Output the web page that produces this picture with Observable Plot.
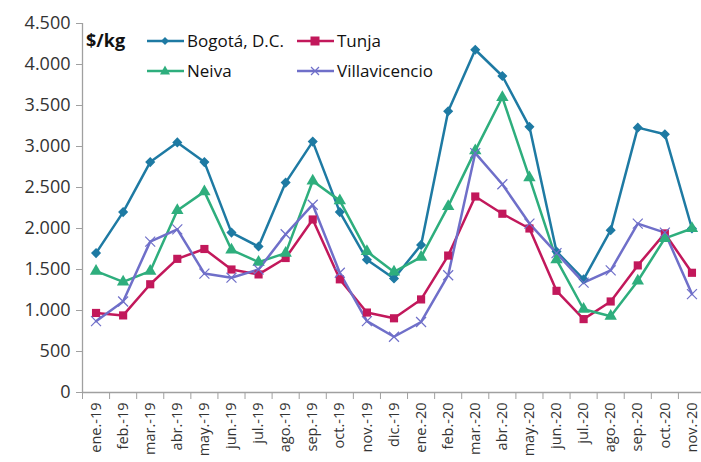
<!DOCTYPE html>
<html>
<head>
<meta charset="utf-8">
<script src="https://cdn.jsdelivr.net/npm/d3@7"></script>
<script src="https://cdn.jsdelivr.net/npm/@observablehq/plot@0.6"></script>
<style>
  body { margin: 0; background: #fff; }
  #wrap { position: relative; width: 701px; height: 462px; font-family: "Open Sans", "Noto Sans", sans-serif; }
  #legend { position: absolute; left: 0; top: 0; }
  .unit { position: absolute; left: 86px; top: 28px; font-weight: bold; font-size: 18px; color: #111; white-space: nowrap; }
  .item { position: absolute; display: flex; align-items: center; font-size: 17px; color: #111; white-space: nowrap; }
  .item svg { margin-right: 3px; flex: none; }
</style>
</head>
<body>
<div id="wrap"></div>
<script>
const months = ["ene.-19","feb.-19","mar.-19","abr.-19","may.-19","jun.-19","jul.-19","ago.-19","sep.-19","oct.-19","nov.-19","dic.-19","ene.-20","feb.-20","mar.-20","abr.-20","may.-20","jun.-20","jul.-20","ago.-20","sep.-20","oct.-20","nov.-20"];
const seriesNames = ["Bogotá, D.C.","Tunja","Neiva","Villavicencio"];
const bogota = [1700,2200,2810,3050,2810,1950,1780,2560,3060,2200,1620,1390,1800,3430,4180,3860,3240,1720,1380,1980,3230,3150,2000];
const tunja = [970,940,1320,1630,1750,1500,1440,1640,2110,1380,975,905,1135,1670,2390,2180,2000,1240,895,1110,1550,1940,1460];
const neiva = [1480,1350,1480,2220,2450,1740,1590,1700,2580,2340,1720,1470,1650,2270,2950,3600,2620,1620,1015,930,1360,1880,2000];
const villavicencio = [870,1110,1840,1990,1450,1400,1500,1930,2290,1460,870,680,860,1430,2920,2540,2060,1700,1340,1490,2060,1950,1200];
const yTicks = [0,500,1000,1500,2000,2500,3000,3500,4000,4500];

const colors = ["#1e7aa3","#c2185b","#2eae7d","#6f6fc9"];
const symbols = ["diamond2","square","triangle","times"];
const values = [bogota, tunja, neiva, villavicencio];

const data = [];
seriesNames.forEach((s, k) => values[k].forEach((v, i) => data.push({series: s, i, v})));
const idx = months.map((_, i) => i);
const boundaries = d3.range(months.length + 1).map(i => i - 0.5);
const fmt = v => d3.format(",")(v).replace(/,/g, ".");

const chart = Plot.plot({
  width: 701,
  height: 462,
  marginTop: 23,
  marginBottom: 70,
  marginLeft: 82,
  marginRight: 0,
  style: {fontFamily: "'Open Sans', 'Noto Sans', sans-serif", color: "#333", background: "transparent"},
  x: {type: "linear", domain: [-0.5, months.length - 0.5], range: [82, 705], label: null},
  y: {domain: [0, 4500], label: null},
  color: {domain: seriesNames, range: colors},
  symbol: {domain: seriesNames, range: symbols},
  marks: [
    Plot.ruleX([-0.5], {stroke: "#a0a0a0", strokeWidth: 1.3}),
    Plot.ruleY([0], {stroke: "#a0a0a0", strokeWidth: 1.3}),
    Plot.axisY({ticks: yTicks, tickFormat: fmt, tickSize: 6, tickPadding: 6, fontSize: 18, stroke: "#a0a0a0", fill: "#333", label: null}),
    Plot.axisX({ticks: boundaries, tickFormat: () => "", tickSize: 7, stroke: "#a0a0a0", label: null}),
    Plot.axisX({ticks: idx, tickFormat: i => months[i], tickSize: 0, tickPadding: 10, tickRotate: -90, fontSize: 14.5, fill: "#333", label: null}),
    Plot.line(data, {x: "i", y: "v", z: "series", stroke: "series", strokeWidth: 2.5}),
    Plot.dot(data.filter(d => d.series === "Bogotá, D.C."), {x: "i", y: "v", symbol: "series", fill: "series", stroke: "series", r: 3.6}),
    Plot.dot(data.filter(d => d.series === "Tunja"), {x: "i", y: "v", symbol: "series", fill: "series", r: 4.6}),
    Plot.dot(data.filter(d => d.series === "Neiva"), {x: "i", y: "v", symbol: "series", fill: "series", r: 4.6}),
    Plot.dot(data.filter(d => d.series === "Villavicencio"), {x: "i", y: "v", symbol: "series", stroke: "series", strokeWidth: 1.2, r: 4.6})
  ]
});

const wrap = document.getElementById("wrap");
wrap.appendChild(chart);

// Legend overlay
const legend = document.createElement("div");
legend.id = "legend";
const unit = document.createElement("div");
unit.className = "unit";
unit.textContent = "$/kg";
legend.appendChild(unit);
const pos = [[147, 29], [297, 29], [147, 59], [297, 59]];
const shapes = [
  c => `<path d="M18,7 L22,11 L18,15 L14,11Z" fill="${c}"/>`,
  c => `<rect x="13.5" y="6.5" width="9" height="9" fill="${c}"/>`,
  c => `<path d="M18,5.5 L23,14.5 L13,14.5Z" fill="${c}"/>`,
  c => `<path d="M14,7 L22,15 M22,7 L14,15" stroke="${c}" stroke-width="1.2"/>`
];
[0, 1, 2, 3].forEach((k, j) => {
  const it = document.createElement("div");
  it.className = "item";
  it.style.left = pos[j][0] + "px";
  it.style.top = pos[j][1] + "px";
  it.innerHTML = `<svg width="37" height="22"><line x1="0" y1="11" x2="37" y2="11" stroke="${colors[k]}" stroke-width="2.5"/>${shapes[k](colors[k])}</svg><span>${seriesNames[k]}</span>`;
  legend.appendChild(it);
});
wrap.appendChild(legend);
</script>
</body>
</html>
